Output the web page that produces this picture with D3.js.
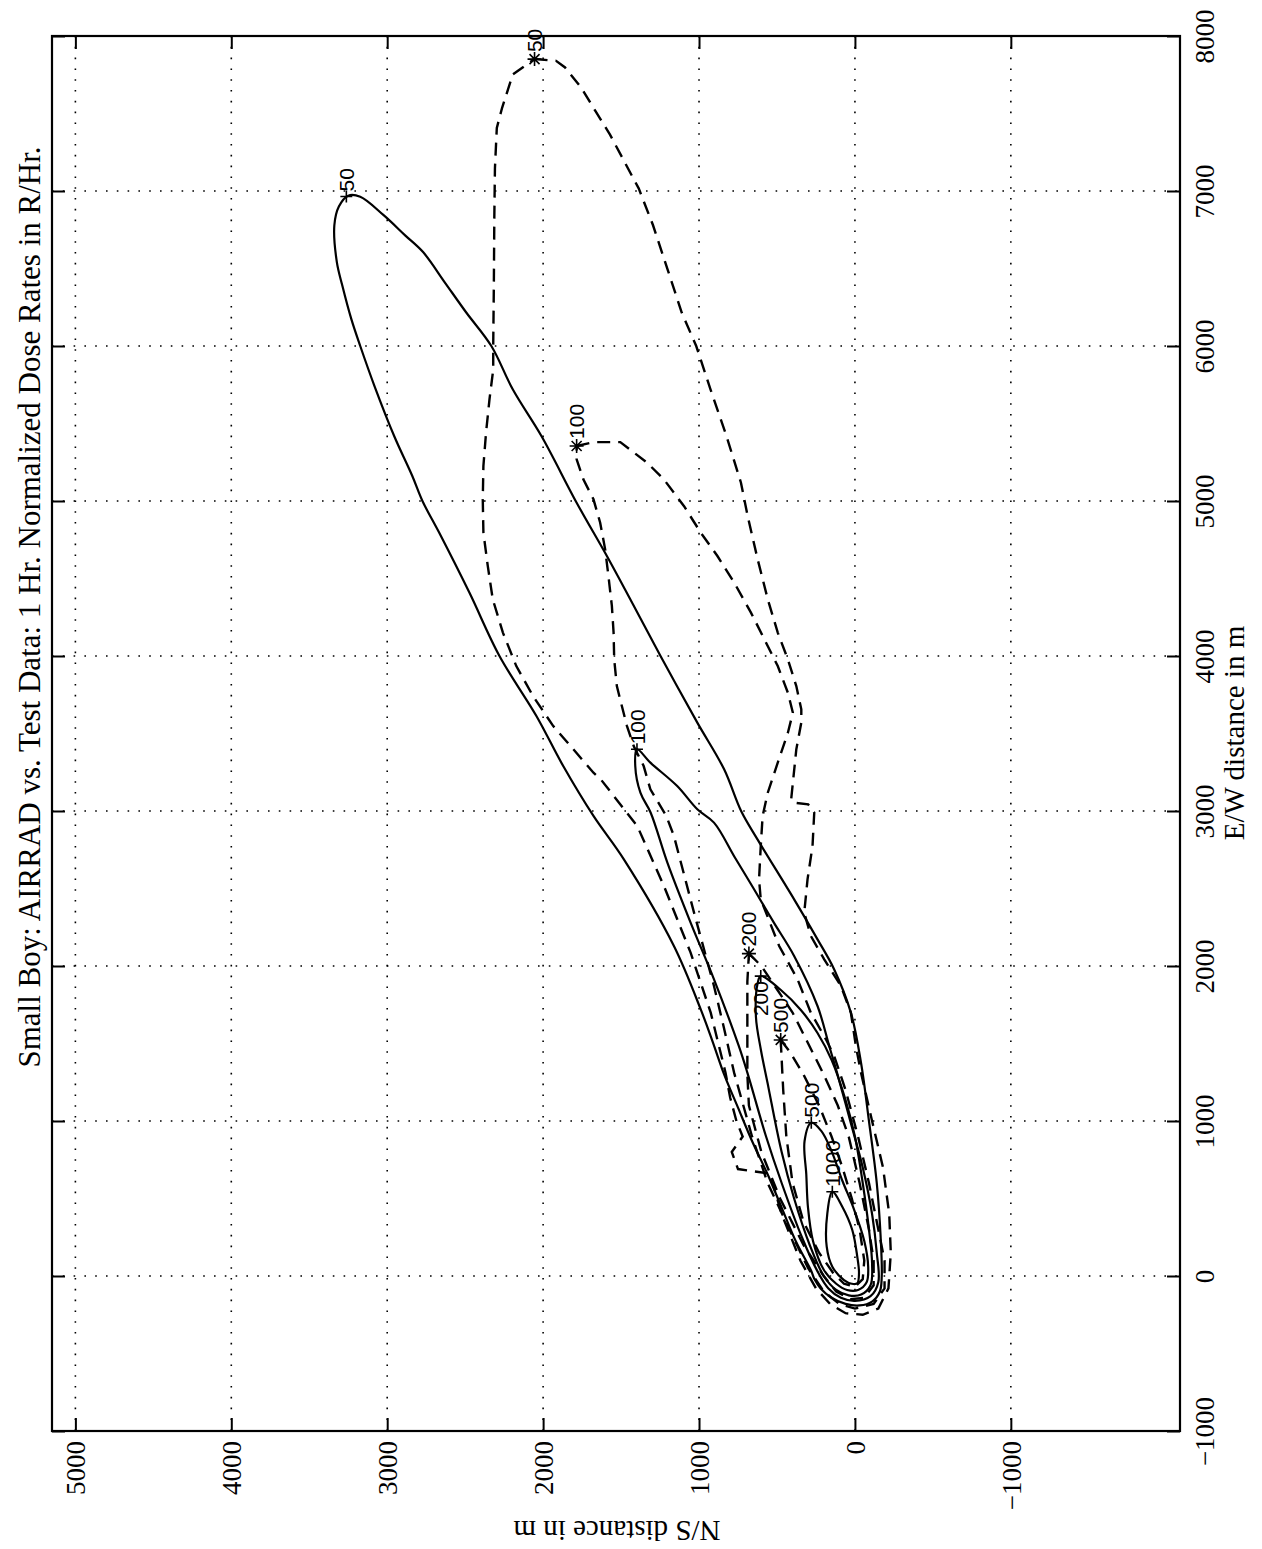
<!DOCTYPE html>
<html>
<head>
<meta charset="utf-8">
<script src="https://cdn.jsdelivr.net/npm/d3@7"></script>
<style>
  html, body { margin: 0; padding: 0; background: #fff; }
  svg { display: block; }
</style>
</head>
<body>
<svg id="chart" width="1262" height="1549"></svg>
<script>
// Dose-rate contours, points are [E/W distance, N/S distance] in metres.
// AIRRAD model contours (solid), 1 hr normalized dose rate in R/Hr.
const airrad50 = [[6970,3250],[6963,3173],[6844,3023],[6714,2885],[6606,2770],[6411,2631],[6216,2493],[6000,2332],[5719,2194],[5416,2009],[4989,1785],[4645,1591],[4366,1441],[4000,1247],[3570,1011],[3269,839],[3000,730],[2817,625],[2430,390],[2172,240],[1978,133],[1699,26],[1376,-39],[1000,-90],[600,-140],[250,-165],[0,-172],[-100,-160],[-165,-110],[-190,-30],[-180,60],[-140,150],[-80,220],[-20,260],[32,280],[226,380],[441,470],[656,560],[871,660],[1086,750],[1301,839],[1516,914],[1720,989],[2129,1161],[2688,1482],[2968,1677],[3290,1871],[3613,2043],[4000,2280],[4409,2473],[4796,2667],[5000,2774],[5161,2839],[5416,2954],[5740,3081],[6000,3173],[6173,3230],[6390,3288],[6541,3323],[6779,3339],[6900,3310]];
const airrad100 = [[3398,1398],[3312,1312],[3161,1140],[3011,1011],[2925,904],[2700,770],[2495,647],[2280,520],[2065,390],[1742,240],[1484,165],[1312,115],[1000,30],[700,-50],[400,-110],[150,-140],[-40,-150],[-130,-100],[-160,0],[-140,90],[-80,170],[30,240],[250,340],[600,470],[900,570],[1312,690],[1484,745],[1914,904],[2280,1054],[2667,1203],[2989,1310],[3118,1376],[3290,1409]];
const airrad200 = [[1935,604],[1845,475],[1716,347],[1568,240],[1394,150],[1135,60],[900,0],[600,-50],[300,-90],[80,-110],[-60,-100],[-120,-40],[-125,40],[-90,120],[0,200],[200,290],[500,390],[800,470],[1135,539],[1243,560],[1458,603],[1673,635],[1888,624]];
const airrad500 = [[989,280],[935,215],[806,150],[613,80],[441,10],[226,-60],[60,-85],[-40,-75],[-90,-20],[-90,50],[-50,120],[40,200],[226,269],[441,301],[656,312],[871,323]];
const airrad1000 = [[544,145],[447,81],[297,17],[125,-15],[17,-26],[-47,-15],[-50,20],[-26,70],[60,145],[189,181],[404,177]];

// Test data contours (dashed).
const test50 = [[7851,2055],[7840,1917],[7797,1859],[7667,1756],[7515,1664],[7364,1571],[7190,1479],[7017,1387],[6779,1295],[6498,1203],[6216,1111],[6000,1018],[5719,926],[5416,823],[5118,731],[4903,688],[4624,624],[4366,559],[4151,495],[3978,430],[3806,376],[3656,344],[3570,344],[3398,376],[3075,409],[3054,390],[3043,300],[2989,261],[2774,272],[2559,304],[2344,325],[2194,283],[2043,197],[1871,90],[1699,26],[1484,-6],[1312,-39],[1000,-110],[700,-180],[400,-220],[150,-230],[-80,-215],[-210,-150],[-250,-50],[-240,60],[-180,160],[-80,250],[100,350],[400,470],[660,545],[690,750],[800,790],[900,720],[1000,760],[1150,800],[1312,830],[1699,925],[2086,1054],[2516,1225],[2903,1396],[3204,1630],[3247,1677],[3398,1806],[3548,1935],[3742,2065],[3935,2172],[4151,2258],[4366,2323],[4581,2355],[4796,2383],[5011,2387],[5226,2383],[5441,2366],[5656,2344],[5848,2320],[6000,2320],[6390,2316],[6823,2313],[7147,2309],[7407,2297],[7537,2263],[7753,2194]];
const test100 = [[5355,1785],[5380,1677],[5380,1505],[5247,1333],[5140,1226],[4968,1097],[4796,989],[4645,882],[4473,774],[4280,667],[4108,581],[3935,495],[3763,430],[3634,398],[3505,430],[3312,495],[3118,559],[2968,592],[2774,604],[2559,615],[2430,604],[2129,486],[1914,368],[1699,283],[1527,186],[1419,133],[1200,60],[900,-20],[600,-90],[300,-150],[100,-190],[-80,-190],[-180,-120],[-210,0],[-180,100],[-100,200],[50,300],[300,420],[600,560],[900,660],[1312,775],[1600,840],[1871,904],[2344,1032],[2839,1161],[2968,1210],[3140,1312],[3290,1355],[3419,1419],[3548,1462],[3677,1495],[3806,1527],[3978,1544],[4151,1548],[4323,1559],[4516,1581],[4688,1602],[4860,1634],[5011,1677],[5140,1742],[5269,1785]];
const test200 = [[2080,680],[2000,600],[1850,500],[1700,400],[1500,300],[1300,200],[1100,110],[900,40],[600,-30],[300,-90],[100,-120],[-60,-120],[-140,-60],[-150,30],[-100,120],[0,200],[200,330],[500,480],[800,600],[1100,680],[1300,690],[1600,690],[1900,690]];
const test500 = [[1523,476],[1450,420],[1300,330],[1100,230],[900,150],[700,80],[500,20],[300,-30],[100,-60],[-20,-50],[-70,0],[-50,70],[20,140],[150,230],[350,330],[600,400],[900,440],[1200,460],[1400,470]];

// Contour labels: level text, marker position (E/W, N/S) and which side of
// the marker the text sits on along E/W.
const airradLabels = [
  {text: "50", ew: 6965, ns: 3262, side: "after"},
  {text: "100", ew: 3398, ns: 1398, side: "after"},
  {text: "200", ew: 1935, ns: 604, side: "before"},
  {text: "500", ew: 989, ns: 280, side: "after"},
  {text: "1000", ew: 544, ns: 145, side: "after"}
];
const testLabels = [
  {text: "50", ew: 7851, ns: 2055, side: "after"},
  {text: "100", ew: 5355, ns: 1785, side: "after"},
  {text: "200", ew: 2080, ns: 680, side: "after"},
  {text: "500", ew: 1523, ns: 476, side: "after"}
];

const nsTicks = [-1000, 0, 1000, 2000, 3000, 4000, 5000];
const ewTicks = [-1000, 0, 1000, 2000, 3000, 4000, 5000, 6000, 7000, 8000];
const titleText = "Small Boy: AIRRAD vs. Test Data: 1 Hr. Normalized Dose Rates in R/Hr.";
const ewLabel = "E/W distance in m";
const nsLabel = "N/S distance in m";

// The page is laid out landscape-rotated: N/S runs along the bottom (decreasing
// to the right), E/W runs up the right side.
const boxL = 52, boxR = 1180, boxT = 36, boxB = 1431;
const sx = d3.scaleLinear().domain([5150, -2085]).range([boxL, boxR]);
const sy = d3.scaleLinear().domain([-1000, 8000]).range([boxB, boxT]);

const svg = d3.select("#chart");
const fmt = d => d < 0 ? "\u2212" + Math.abs(d) : String(d);

// dotted grid
const grid = svg.append("g").attr("stroke", "#000").attr("stroke-width", 1.6)
  .attr("stroke-dasharray", "1.6,9.2").attr("fill", "none");
nsTicks.forEach(t => {
  grid.append("line").attr("x1", sx(t)).attr("x2", sx(t)).attr("y1", boxT).attr("y2", boxB);
});
ewTicks.filter(t => t > -1000 && t < 8000).forEach(t => {
  grid.append("line").attr("x1", boxL).attr("x2", boxR).attr("y1", sy(t)).attr("y2", sy(t));
});

// contours
const smooth = d3.line().x(d => sx(d[1])).y(d => sy(d[0])).curve(d3.curveCatmullRomClosed.alpha(0.5));
const sharp = d3.line().x(d => sx(d[1])).y(d => sy(d[0])).curve(d3.curveLinearClosed);
const plot = svg.append("g").attr("fill", "none").attr("stroke", "#000");
[airrad50, airrad100, airrad200, airrad500, airrad1000].forEach(c => {
  plot.append("path").attr("d", smooth(c)).attr("stroke-width", 2.2);
});
[test50, test100, test200, test500].forEach(c => {
  plot.append("path").attr("d", sharp(c)).attr("stroke-width", 2.4)
    .attr("stroke-dasharray", "13,8");
});

// contour labels
const lab = svg.append("g");
const sans = "Liberation Sans, Arial, sans-serif";
function labelText(l, x, y, gap) {
  const after = l.side === "after";
  lab.append("text")
    .attr("transform", `translate(${x},${after ? y - gap : y + gap}) rotate(-90)`)
    .attr("text-anchor", after ? "start" : "end")
    .attr("dy", "0.36em").attr("font-family", sans).attr("font-size", 21).text(l.text);
}
airradLabels.forEach(l => {
  const x = sx(l.ns), y = sy(l.ew);
  lab.append("path").attr("d", `M${x-6},${y}H${x+6}M${x},${y-6}V${y+6}`)
    .attr("stroke", "#000").attr("stroke-width", 1.6);
  labelText(l, x, y, 5);
});
testLabels.forEach(l => {
  const x = sx(l.ns), y = sy(l.ew);
  const r = 7, q = 5;
  lab.append("path").attr("d", `M${x-r},${y}H${x+r}M${x},${y-r}V${y+r}M${x-q},${y-q}L${x+q},${y+q}M${x-q},${y+q}L${x+q},${y-q}`)
    .attr("stroke", "#000").attr("stroke-width", 1.6);
  labelText(l, x, y, 7);
});

// axes: ticks point inward on all four sides
const serif = "Liberation Serif, Times New Roman, serif";
const axB = svg.append("g").attr("transform", `translate(0,${boxB})`)
  .call(d3.axisBottom(sx).tickValues(nsTicks).tickSizeInner(-13).tickSizeOuter(0).tickFormat(fmt));
axB.selectAll("text").attr("transform", "rotate(-90)").attr("x", -10).attr("y", 0)
  .attr("dy", "0.35em").attr("text-anchor", "end");
const axT = svg.append("g").attr("transform", `translate(0,${boxT})`)
  .call(d3.axisTop(sx).tickValues(nsTicks).tickSizeInner(-13).tickSizeOuter(0).tickFormat(""));
const axR = svg.append("g").attr("transform", `translate(${boxR},0)`)
  .call(d3.axisRight(sy).tickValues(ewTicks).tickSizeInner(-13).tickSizeOuter(0).tickFormat(fmt));
axR.selectAll("text").attr("transform", "rotate(-90)").attr("x", 0).attr("y", 34)
  .attr("dy", 0).attr("text-anchor", "middle");
const axL = svg.append("g").attr("transform", `translate(${boxL},0)`)
  .call(d3.axisLeft(sy).tickValues(ewTicks).tickSizeInner(-13).tickSizeOuter(0).tickFormat(""));
[axB, axT, axR, axL].forEach(a => {
  a.select(".domain").remove();
  a.selectAll("line").attr("stroke", "#000").attr("stroke-width", 2);
  a.selectAll("text").attr("font-family", serif).attr("font-size", 27).attr("fill", "#000");
});

svg.append("rect").attr("x", boxL).attr("y", boxT).attr("width", boxR - boxL)
  .attr("height", boxB - boxT).attr("fill", "none").attr("stroke", "#000").attr("stroke-width", 2.2);

// title and axis labels
svg.append("text").attr("transform", "translate(40,607) rotate(-90)")
  .attr("text-anchor", "middle").attr("font-family", serif).attr("font-size", 31).text(titleText);
svg.append("text").attr("transform", "translate(1244,733) rotate(-90)")
  .attr("text-anchor", "middle").attr("font-family", serif).attr("font-size", 29).text(ewLabel);
svg.append("text").attr("transform", "translate(617,1521) rotate(180)")
  .attr("text-anchor", "middle").attr("font-family", serif).attr("font-size", 29).text(nsLabel);
</script>
</body>
</html>
